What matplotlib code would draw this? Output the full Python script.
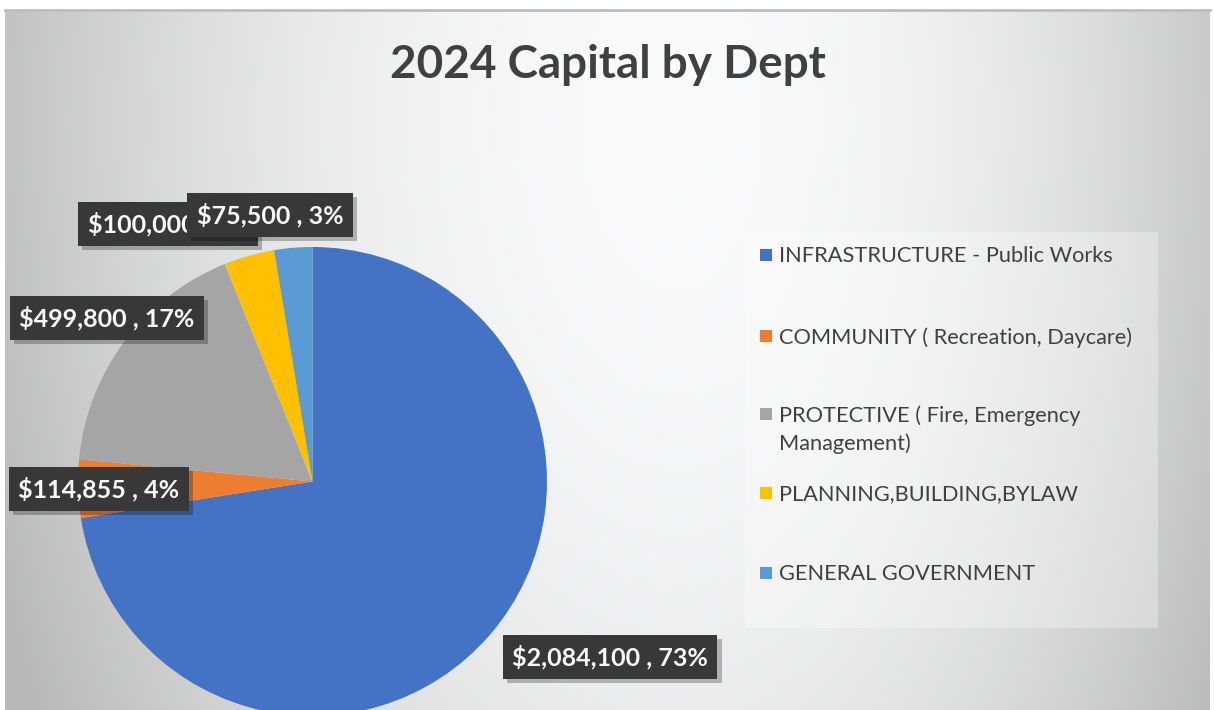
import numpy as np
import matplotlib.pyplot as plt
from matplotlib.patches import Rectangle
import matplotlib.patheffects as pe

plt.rcParams['font.family'] = ['Lato', 'DejaVu Sans']

# 2024 capital budget by department
departments = ["INFRASTRUCTURE - Public Works",
               "COMMUNITY ( Recreation, Daycare)",
               "PROTECTIVE ( Fire, Emergency\nManagement)",
               "PLANNING,BUILDING,BYLAW",
               "GENERAL GOVERNMENT"]
amounts = [2084100, 114855, 499800, 100000, 75500]
colors = ["#4472C4", "#ED7D31", "#A5A5A5", "#FFC000", "#5B9BD5"]

# layout, in pixels from the top-left corner
label_pos = [(610, 657), (99, 489), (107, 318), (168, 224), (270, 215)]
legend_y = [255, 336, 414, 493, 573]

W, H = 1214, 710
fig = plt.figure(figsize=(W / 100, H / 100), dpi=100)
fig.patch.set_facecolor("white")

# background panel with a soft grey gradient
bg = fig.add_axes([0, 0, 1, 1])
bg.set_xlim(0, W)
bg.set_ylim(H, 0)
bg.axis("off")
xs = np.linspace(5, 1210, 600)
ys = np.linspace(10, 710, 350)
X, Y = np.meshgrid(xs, ys)
dx = np.where(X < 680, (X - 680) / 640, (X - 680) / 540)
dy = (Y - 120) / 650
v = 251 - 50 * dx ** 2 - 18 * dy ** 2
v = np.clip(v, 185, 252) / 255
img = np.dstack([v * 0.995, v * 0.997, v])
bg.imshow(img, extent=(5, 1210, 710, 10), aspect="auto", interpolation="bilinear")
bg.plot([5, 1210], [10, 10], color="#bdbdbd", lw=2)

bg.text(608, 65, "2024 Capital by Dept", ha="center", va="center",
        fontsize=33, fontweight="bold", color="#404040")

# legend panel
bg.add_patch(Rectangle((745, 232), 413, 396, facecolor="white", alpha=0.3, edgecolor="none"))
for name, col, y in zip(departments, colors, legend_y):
    bg.add_patch(Rectangle((760, y - 6), 12, 12, facecolor=col, edgecolor="none"))
    bg.text(779, y - 9, name, ha="left", va="top", fontsize=15.7,
            color="#404040", linespacing=1.5)

# pie
cx, cy, r = 312.5, 481.5, 234.5
ax = fig.add_axes([(cx - r) / W, (H - cy - r) / H, 2 * r / W, 2 * r / H])
ax.set_zorder(1)
ax.pie(amounts, colors=colors, startangle=90, counterclock=False, radius=1,
       wedgeprops=dict(linewidth=0))
ax.set_xlim(-1, 1)
ax.set_ylim(-1, 1)
ax.set_aspect("equal")
ax.axis("off")

# data labels on top
top = fig.add_axes([0, 0, 1, 1])
top.set_zorder(2)
top.set_xlim(0, W)
top.set_ylim(H, 0)
top.axis("off")
top.patch.set_alpha(0)
total = sum(amounts)
for amt, (x, y) in zip(amounts, label_pos):
    pct = round(100 * amt / total)
    t = top.text(x, y, f"${amt:,} , {pct}%", ha="center", va="center",
                 fontsize=18, fontweight="bold", color="#f8f8f8",
                 bbox=dict(boxstyle="square,pad=0.38", facecolor="#383838", edgecolor="none"))
    t.get_bbox_patch().set_path_effects([
        pe.SimplePatchShadow(offset=(3, -3), shadow_rgbFace="black", alpha=0.25),
        pe.Normal()])

fig.savefig("out.png", dpi=100)
